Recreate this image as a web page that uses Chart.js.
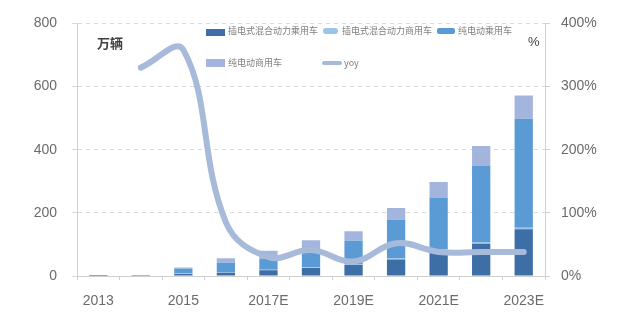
<!DOCTYPE html>
<html>
<head>
<meta charset="utf-8">
<script src="https://cdn.jsdelivr.net/npm/chart.js@4/dist/chart.umd.min.js"></script>
<style>
  html, body { margin: 0; padding: 0; background: #fff; }
  #wrap { position: relative; width: 629px; height: 324px; overflow: hidden; }
  canvas { position: absolute; left: 0; top: 0; }
  .lg { position: absolute; font: 9px "Noto Sans CJK SC", sans-serif; color: #7f7f7f; white-space: nowrap; line-height: 10px; }
  .sw { position: absolute; }
  .unit { position: absolute; font: bold 13px "Noto Sans CJK SC", sans-serif; color: #404040; }
</style>
</head>
<body>
<div id="wrap">
  <canvas id="c" width="629" height="324"></canvas>
  <div class="unit" style="left:97px; top:33px;">万辆</div>
  <div class="unit" style="left:528px; top:34px; font-weight:normal; font-family:'Liberation Sans'; font-size:13px;">%</div>

  <div class="sw" style="left:206px; top:29px; width:19px; height:7px; background:#3d6ea6;"></div>
  <div class="lg" style="left:228px; top:26px;">插电式混合动力乘用车</div>
  <div class="sw" style="left:323px; top:28px; width:15px; height:6px; border-radius:3px; background:#9dc3e6;"></div>
  <div class="lg" style="left:342px; top:26px;">插电式混合动力商用车</div>
  <div class="sw" style="left:437px; top:28px; width:18px; height:6px; border-radius:2px; background:#5b9bd5;"></div>
  <div class="lg" style="left:458px; top:26px;">纯电动乘用车</div>

  <div class="sw" style="left:206px; top:59px; width:19px; height:8px; background:#a3b5dd;"></div>
  <div class="lg" style="left:228px; top:58px;">纯电动商用车</div>
  <div class="sw" style="left:322px; top:61px; width:20px; height:4px; border-radius:2px; background:#a8bada;"></div>
  <div class="lg" style="left:344px; top:58px;">yoy</div>
</div>
<script>
const categories = ['2013','2014','2015','2016','2017E','2018E','2019E','2020E','2021E','2022E','2023E'];
const phevPassenger = [0.2, 0.6, 6, 10, 18, 25, 35, 52, 80, 102, 148];
const phevCommercial = [0, 0.2, 2, 2, 2, 3, 3, 4, 4, 4, 5];
const bevPassenger = [0.3, 0.8, 15, 30, 35, 45, 74, 122, 165, 244, 345];
const bevCommercial = [0.1, 0.4, 4, 14, 25, 40, 30, 37, 49, 62, 74];
const yoy = [null, 330, 358, 85, 30, 41, 23, 52, 38, 38, 38];
const leftTicks = [0, 200, 400, 600, 800];
const rightTicks = [0, 100, 200, 300, 400];

const tickFont = { family: "'Liberation Sans', sans-serif", size: 14 };
const tickColor = '#6b6b6b';

function bar(label, data, color) {
  return { type: 'bar', label, data, backgroundColor: color, yAxisID: 'y', order: 1,
           barPercentage: 0.43, categoryPercentage: 1.0, borderWidth: 0 };
}

new Chart(document.getElementById('c'), {
  data: {
    labels: categories,
    datasets: [
      { type: 'line', label: 'yoy', data: yoy, yAxisID: 'y1', order: 0,
        borderColor: '#a8bada', borderWidth: 6, pointRadius: 0, tension: 0.4,
        borderCapStyle: 'round', fill: false },
      bar('插电式混合动力乘用车', phevPassenger, '#3d6ea6'),
      bar('插电式混合动力商用车', phevCommercial, '#9dc3e6'),
      bar('纯电动乘用车', bevPassenger, '#5b9bd5'),
      bar('纯电动商用车', bevCommercial, '#a3b5dd')
    ]
  },
  options: {
    responsive: false,
    devicePixelRatio: 1,
    animation: false,
    layout: { padding: { top: 16, left: 0, right: 0, bottom: 0 } },
    plugins: { legend: { display: false }, tooltip: { enabled: false } },
    scales: {
      x: {
        stacked: true,
        offset: true,
        grid: { drawOnChartArea: false, drawTicks: true, tickLength: 4, color: '#d0d0d0' },
        border: { display: true, color: '#d0d0d0', dash: [4, 4] },
        ticks: { autoSkip: false, maxRotation: 0, padding: 13, color: tickColor, font: tickFont,
                 callback: (v, i) => (i % 2 === 0 ? categories[i] : '') },
        afterFit: s => { s.height = 48; }
      },
      y: {
        stacked: true,
        position: 'left',
        min: 0, max: 800,
        afterBuildTicks: s => { s.ticks = leftTicks.map(v => ({ value: v })); },
        grid: { color: '#d9d9d9', tickLength: 5, drawTicks: true },
        border: { display: true, color: '#d0d0d0', dash: [4, 4] },
        ticks: { padding: 15, color: tickColor, font: tickFont },
        afterFit: s => { s.width = 77; }
      },
      y1: {
        position: 'right',
        min: 0, max: 400,
        afterBuildTicks: s => { s.ticks = rightTicks.map(v => ({ value: v })); },
        grid: { drawOnChartArea: false, drawTicks: true, tickLength: 5, color: '#d0d0d0' },
        border: { display: true, color: '#d0d0d0', dash: [4, 4] },
        ticks: { padding: 11, color: tickColor, font: tickFont, callback: v => v + '%' },
        afterFit: s => { s.width = 84; }
      }
    }
  }
});
</script>
</body>
</html>
